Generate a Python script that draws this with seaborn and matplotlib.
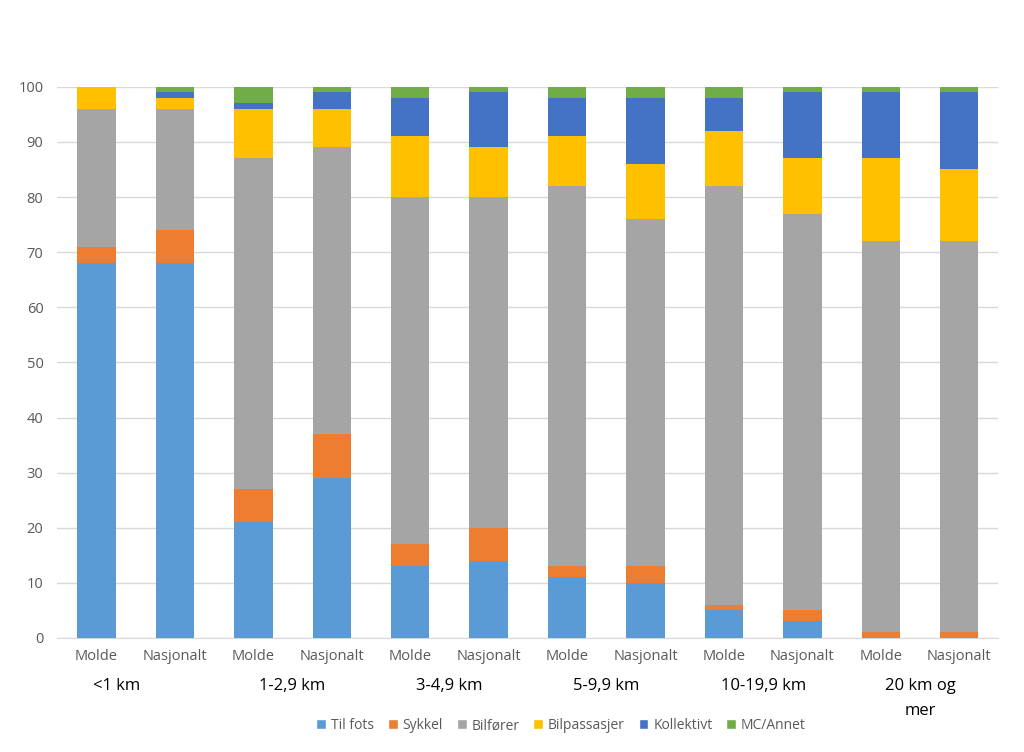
import pandas as pd
import matplotlib.pyplot as plt
import matplotlib.transforms as mtransforms
from matplotlib.patches import Patch
import seaborn as sns
import numpy as np

# Data (percent of trips per distance band)
groups = ['<1 km', '1-2,9 km', '3-4,9 km', '5-9,9 km', '10-19,9 km', '20 km og\nmer']
areas = ['Molde', 'Nasjonalt']
modes = ['Til fots', 'Sykkel', 'Bilfører', 'Bilpassasjer', 'Kollektivt', 'MC/Annet']
colors = ['#5B9BD5', '#ED7D31', '#A5A5A5', '#FFC000', '#4472C4', '#70AD47']

til_fots = [68, 68, 21, 29, 13, 14, 11, 10, 5, 3, 0, 0]
sykkel = [3, 6, 6, 8, 4, 6, 2, 3, 1, 2, 1, 1]
bilforer = [25, 22, 60, 52, 63, 60, 69, 63, 76, 72, 71, 71]
bilpassasjer = [4, 2, 9, 7, 11, 9, 9, 10, 10, 10, 15, 13]
kollektivt = [0, 1, 1, 3, 7, 10, 7, 12, 6, 12, 12, 14]
mc_annet = [0, 1, 3, 1, 2, 1, 2, 2, 2, 1, 1, 1]

bar_ids = [f'{g} {a}' for g in groups for a in areas]
bar_labels = [a for g in groups for a in areas]

df = pd.DataFrame({'bar': bar_ids, 'Til fots': til_fots, 'Sykkel': sykkel,
                   'Bilfører': bilforer, 'Bilpassasjer': bilpassasjer,
                   'Kollektivt': kollektivt, 'MC/Annet': mc_annet})
cum = df[modes].cumsum(axis=1)
cum['bar'] = df['bar']

sns.set_style('white')
plt.rcParams['font.family'] = ['Open Sans', 'DejaVu Sans']

fig = plt.figure(figsize=(10.24, 7.52), dpi=100)
ax = fig.add_axes([0.056, 0.1516, 0.919, 0.733])

# draw cumulative totals from top layer down so lower layers sit on top
for mode, color in reversed(list(zip(modes, colors))):
    sns.barplot(data=cum, x='bar', y=mode, order=bar_ids, color=color,
                width=0.49, saturation=1, ax=ax, linewidth=0, zorder=3)

ax.set_ylim(0, 100)
ax.set_xlim(-0.5, len(bar_ids) - 0.5)
ax.set_yticks(np.arange(0, 101, 10))
ax.yaxis.grid(True, color='#d9d9d9', linewidth=1, zorder=0)
ax.set_axisbelow(True)
for s in ['top', 'right', 'left']:
    ax.spines[s].set_visible(False)
ax.spines['bottom'].set_color('#d9d9d9')
ax.set_xlabel('')
ax.set_ylabel('')
ax.set_xticks(range(len(bar_ids)))
ax.set_xticklabels(bar_labels)
ax.tick_params(axis='both', length=0, colors='#595959', labelsize=10.5)
ax.tick_params(axis='x', pad=8)
ax.tick_params(axis='y', pad=10)

# group labels under each pair
trans = mtransforms.blended_transform_factory(ax.transData, fig.transFigure)
group_x = [0.25, 2.5, 4.5, 6.5, 8.5, 10.5]
for gx, g in zip(group_x, groups):
    fig.text(gx, 0.098, g, transform=trans, ha='center', va='top',
             fontsize=12, color='black', linespacing=1.75)

handles = [Patch(facecolor=c, label=m) for m, c in zip(modes, colors)]
fig.legend(handles=handles, loc='center', bbox_to_anchor=(0.548, 0.035), ncol=6,
           frameon=False, fontsize=10, handlelength=0.7, handleheight=0.7,
           handletextpad=0.35, columnspacing=1.0, labelcolor='#595959')

fig.savefig('out.png', dpi=100, facecolor='white')
